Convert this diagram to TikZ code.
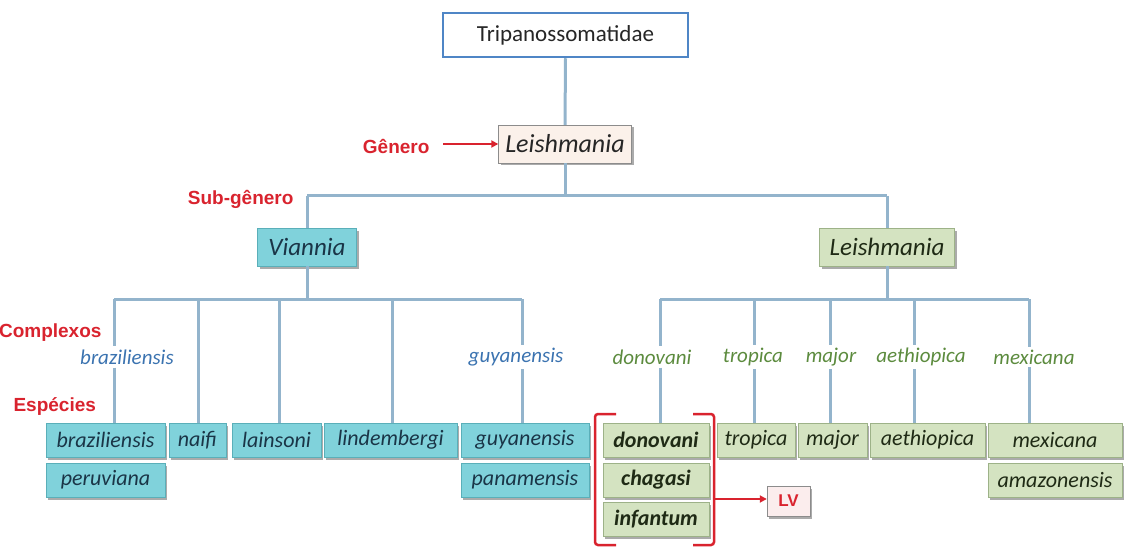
\documentclass[tikz,border=0pt]{standalone}
\usepackage{fontspec}
\setmainfont{Carlito}
\newfontfamily\labelfont{Liberation Sans}
\usetikzlibrary{arrows.meta, shadows, positioning}
\definecolor{my_line}{HTML}{93B4CC}
\definecolor{my_blue}{HTML}{4F86C6}
\definecolor{my_red}{HTML}{D9232E}
\definecolor{my_cyan}{HTML}{80D2DB}
\definecolor{my_cyanedge}{HTML}{5AAFB9}
\definecolor{my_navy}{HTML}{1A3547}
\definecolor{my_green}{HTML}{D4E3C1}
\definecolor{my_greenedge}{HTML}{9DB288}
\definecolor{my_olive}{HTML}{1F2A15}
\definecolor{my_cplxblue}{HTML}{3B73B0}
\definecolor{my_cplxgreen}{HTML}{5C8B3E}
\definecolor{my_cream}{HTML}{FBF1EA}
\definecolor{my_pink}{HTML}{FBEDED}
\definecolor{my_gray}{HTML}{8C8C8C}

\begin{document}
\begin{tikzpicture}[
    x=1pt, y=-1pt,
    link/.style={draw=my_line, line width=3pt},
    shade3d/.style={drop shadow={shadow xshift=2pt, shadow yshift=-2.5pt, fill=black!60, opacity=0.55}},
    taxon/.style={inner sep=0pt, minimum height=34pt, shade3d,
        font=\itshape\fontsize{22}{24}\selectfont},
    vbox/.style={taxon, fill=my_cyan, draw=my_cyanedge, text=my_navy},
    gbox/.style={taxon, fill=my_green, draw=my_greenedge, text=my_olive},
    rank/.style={text=my_red, font=\labelfont\bfseries\fontsize{19}{21}\selectfont},
    cplxV/.style={inner sep=3pt, text=my_cplxblue, font=\itshape\fontsize{21}{23}\selectfont},
    cplxL/.style={inner sep=3pt, text=my_cplxgreen, font=\itshape\fontsize{21}{23}\selectfont},
    redarrow/.style={draw=my_red, line width=2pt, -{Triangle[length=7pt, width=7pt]}},
    bracket/.style={draw=my_red, line width=2.5pt, rounded corners=3pt}
]
\useasboundingbox (0,0) rectangle (1124,548);

% --- Familie, Gattung, Untergattungen ---
\node[draw=my_blue, line width=2.5pt, fill=white, minimum width=245pt, minimum height=44pt,
      inner sep=0pt, text=black!85, font=\fontsize{23}{25}\selectfont] (tri) at (565.5,35) {Tripanossomatidae};
\node[taxon, fill=my_cream, draw=my_gray, text=black!85, minimum width=133pt, minimum height=38pt,
      font=\itshape\fontsize{26}{28}\selectfont] (gen) at (565,144) {Leishmania};
\node[vbox, minimum width=99pt, minimum height=38pt, font=\itshape\fontsize{25}{27}\selectfont] (vian) at (307,247) {Viannia};
\node[gbox, minimum width=135pt, minimum height=38pt, font=\itshape\fontsize{25}{27}\selectfont] (leis) at (887,247) {Leishmania};

% --- Raenge ---
\node[rank, anchor=east] (lblGen) at (433,147) {Gênero};
\node[rank, anchor=east] (lblSub) at (297,199) {Sub-gênero};
\node[rank, anchor=east] (lblCplx) at (105,333) {Complexos};
\node[rank, anchor=west] (lblSpec) at (10,407) {Espécies};

% --- Komplexe ---
\node[cplxV] (cbraz) at (127,357) {braziliensis};
\node[cplxV] (cguy) at (516,357) {guyanensis};
\node[cplxL] (cdon) at (652,357) {donovani};
\node[cplxL] (ctrop) at (753,357) {tropica};
\node[cplxL] (cmaj) at (831,357) {major};
\node[cplxL] (caeth) at (921,357) {aethiopica};
\node[cplxL] (cmex) at (1034,357) {mexicana};

% --- Arten: Viannia ---
\node[vbox, minimum width=119pt] (sbraz) at (105.5,440) {braziliensis};
\node[vbox, minimum width=119pt] (speru) at (105.5,480) {peruviana};
\node[vbox, minimum width=57pt] (snaifi) at (197.5,440) {naifi};
\node[vbox, minimum width=89pt] (slain) at (276.5,440) {lainsoni};
\node[vbox, minimum width=133pt] (slind) at (390.5,440) {lindembergi};
\node[vbox, minimum width=128pt] (sguy) at (525,440) {guyanensis};
\node[vbox, minimum width=128pt] (span) at (525,480) {panamensis};

% --- Arten: Leishmania ---
\node[gbox, minimum width=106pt, font=\bfseries\itshape\fontsize{22}{24}\selectfont] (sdon) at (656,440) {donovani};
\node[gbox, minimum width=106pt, font=\bfseries\itshape\fontsize{22}{24}\selectfont] (schag) at (656,480) {chagasi};
\node[gbox, minimum width=106pt, font=\bfseries\itshape\fontsize{22}{24}\selectfont] (sinf) at (656,519.5) {infantum};
\node[gbox, minimum width=78pt] (strop) at (756,440) {tropica};
\node[gbox, minimum width=69pt] (smaj) at (832.5,440) {major};
\node[gbox, minimum width=115pt] (saeth) at (927.5,440) {aethiopica};
\node[gbox, minimum width=134pt] (smex) at (1055,440) {mexicana};
\node[gbox, minimum width=134pt] (samaz) at (1055,480) {amazonensis};

\node[fill=my_pink, draw=my_gray, shade3d, minimum width=43pt, minimum height=30pt, inner sep=0pt,
      text=my_red, font=\labelfont\bfseries\fontsize{17}{19}\selectfont] (lv) at (788.5,501) {LV};

% --- Verzweigungspunkte ---
\coordinate (jL) at (307,196);
\coordinate (jR) at (887,196);
\coordinate (bA) at (114,299);
\coordinate (bB) at (198,299);
\coordinate (bC) at (279,299);
\coordinate (bD) at (392,299);
\coordinate (bE) at (522,299);
\coordinate (bF) at (660,299);
\coordinate (bG) at (754,299);
\coordinate (bH) at (830,299);
\coordinate (bI) at (914,299);
\coordinate (bJ) at (1029,299);

% --- Verbindungen ---
\draw[link] (tri.south) -- (gen.north);
\draw[link] (gen.south) -- (gen.south |- jL);
\draw[link] (jL) -- (jR);
\draw[link] (jL) -- (vian.north);
\draw[link] (jR) -- (leis.north);
\draw[link] (vian.south) -- (vian.south |- bA);
\draw[link] (leis.south) -- (leis.south |- bF);
\draw[link] (bA) -- (bE);
\draw[link] (bF) -- (bJ);

\foreach \b/\c/\s in {bA/cbraz/sbraz, bE/cguy/sguy, bF/cdon/sdon, bG/ctrop/strop,
                      bH/cmaj/smaj, bI/caeth/saeth, bJ/cmex/smex} {
    \draw[link] (\b) -- (\b |- \c.north);
    \draw[link] (\b |- \c.south) -- (\b |- \s.north);
}
\foreach \b/\s in {bB/snaifi, bC/slain, bD/slind}
    \draw[link] (\b) -- (\b |- \s.north);

% --- Pfeile und Klammer ---
\draw[redarrow] (lblGen.east) ++(10,-3) coordinate (genTail) -- (gen.west |- genTail);

\draw[bracket] (616,414) -- (595,414) -- (595,545) -- (616,545);
\draw[bracket] (693,414) -- (714,414) -- (714,545) -- (693,545);
\coordinate (brR) at (714,499);
\draw[redarrow] (brR) -- (lv.west |- brR);

\end{tikzpicture}
\end{document}
